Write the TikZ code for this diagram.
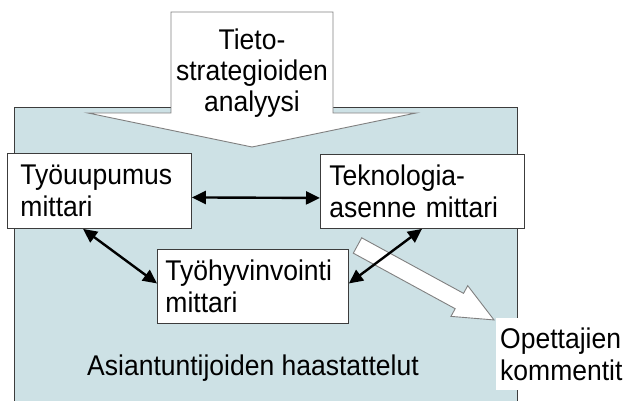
\documentclass[tikz,border=0pt]{standalone}
\usepackage{fontspec}
\setmainfont{Liberation Sans}[FakeStretch=0.93]
\usetikzlibrary{arrows.meta,calc}
\definecolor{panelblue}{RGB}{205,225,229}
\definecolor{boxline}{RGB}{60,60,60}
\definecolor{arrowline}{RGB}{128,128,128}
\begin{document}
\begin{tikzpicture}[x=1pt,y=-1pt,
  label text/.style={font=\fontsize{28.5}{32}\selectfont},
  mbox/.style={draw=boxline, line width=0.9pt, fill=white, anchor=north west,
    align=left, inner ysep=0pt, label text},
  link/.style={line width=2.4pt,
    {Triangle[length=14pt,width=13pt]}-{Triangle[length=14pt,width=13pt]}},
  hollow/.style={draw=arrowline, fill=white, line width=0.9pt, line join=miter}]
\useasboundingbox (0,0) rectangle (632,401);

% interview panel (open at the bottom)
\fill[panelblue] (14,107) rectangle (517,401);
\draw[boxline, line width=0.9pt] (14,401) -- (14,107) -- (517,107) -- (517,401);

% downward block arrow from the strategy analysis
\draw[hollow] (171,12) -- (333,12) -- (333,113) -- (416,113) -- (252,147)
  -- (88,113) -- (171,113) -- cycle;
\node[label text, align=center, font=\fontsize{28.5}{31}\selectfont] (strat) at (252,73)
  {Tieto-\\strategioiden\\analyysi};

% measurement boxes
\node[mbox, inner xsep=13pt, text width=158pt, minimum height=75pt] (tyo) at (7,153)
  {Työuupumus\\mittari};
\node[mbox, inner xsep=9pt, text width=186pt, minimum height=74pt] (tek) at (320,154)
  {Teknologia-\\asenne mittari};
\node[mbox, inner xsep=8pt, text width=175pt, minimum height=74pt] (hyv) at (157,249)
  {Työhyvinvointi\\mittari};

% teacher comments
\node[fill=white, anchor=north west, align=left, inner xsep=4pt, inner ysep=0pt,
  text width=128pt, minimum height=72pt, label text] (opet) at (496,318)
  {Opettajien\\kommentit};

% block arrow towards the teacher comments
\begin{scope}[shift={(357.5,245.5)}, rotate=-28.6]
  \draw[hollow] (0,-8.75) -- (116,-8.75) -- (116,-17.5) -- (155.5,0)
    -- (116,17.5) -- (116,8.75) -- (0,8.75) -- cycle;
\end{scope}

% links between the measures
\draw[link] ([yshift=-6.5pt]tyo.east) -- ([yshift=-6.5pt]tek.west);
\draw[link] ([xshift=76pt]tyo.south west) -- ([yshift=3pt]hyv.west);
\draw[link] ([xshift=102pt]tek.south west) -- ([yshift=3pt]hyv.east);

% panel caption
\node[label text, anchor=base] (asi) at (253,375) {Asiantuntijoiden haastattelut};
\end{tikzpicture}
\end{document}
